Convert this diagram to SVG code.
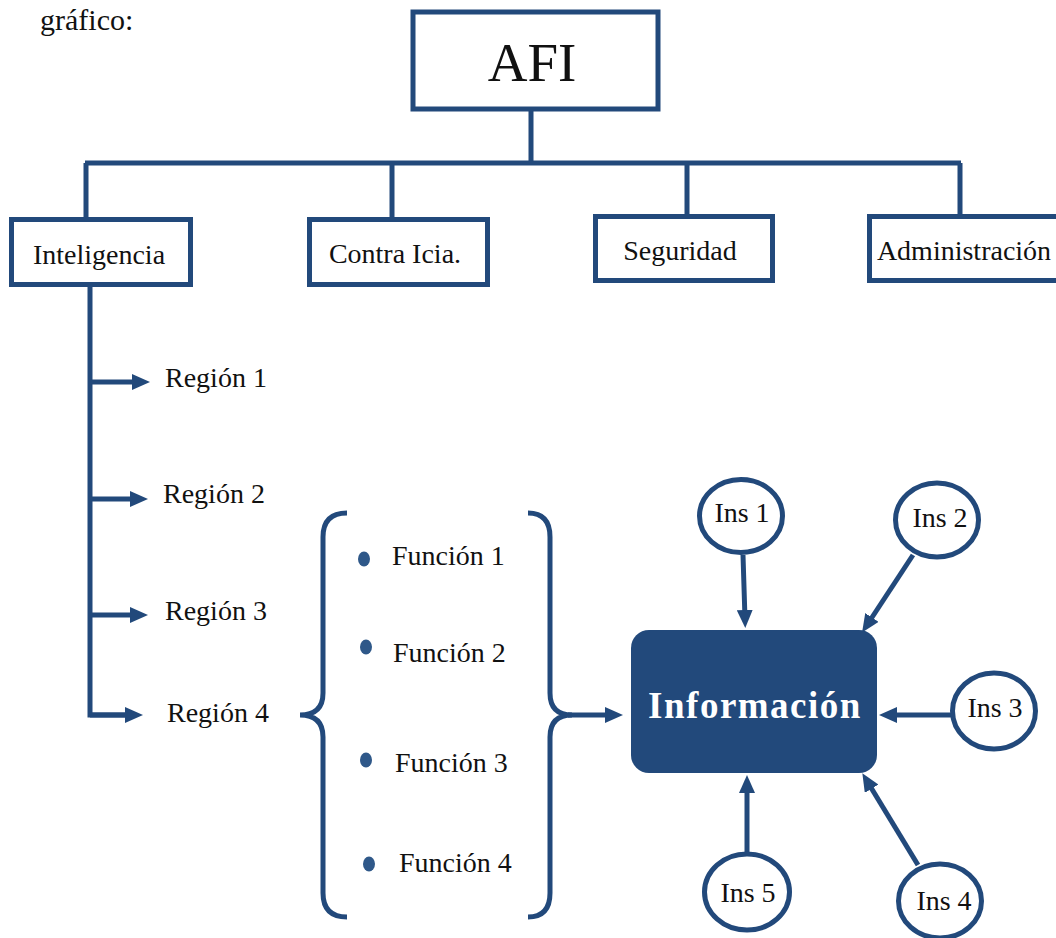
<svg xmlns="http://www.w3.org/2000/svg" width="1056" height="938" viewBox="0 0 1056 938">
<style>
.box{fill:#fff;stroke:#22497b;stroke-width:5}
.ln{fill:none;stroke:#22497b;stroke-width:5}
.ar{fill:none;stroke:#22497b;stroke-width:5;marker-end:url(#ah)}
.t{font-family:"Liberation Serif","Times New Roman",serif;font-size:28px;fill:#111}
.c{text-anchor:middle}
.dot{fill:#2f5889}
</style>
<defs>
<marker id="ah" viewBox="0 0 18 16" refX="9" refY="8" markerWidth="18" markerHeight="16" markerUnits="userSpaceOnUse" orient="auto">
<path d="M0,0 L18,8 L0,16 Z" fill="#22497b"/>
</marker>
</defs>
<rect width="1056" height="938" fill="#fff"/>
<text class="t" x="40" y="30" style="font-size:30px">gráfico:</text>

<g id="connectors">
<path class="ln" d="M531,109 V163 M85,163 H961 M86,163 V219 M392,163 V219 M687,163 V216 M960,163 V216"/>
<path class="ln" d="M90,285 V715 H134"/>
<line class="ar" x1="90" y1="715" x2="134" y2="715"/>
<line class="ar" x1="90" y1="382" x2="141" y2="382"/>
<line class="ar" x1="90" y1="499" x2="139" y2="499"/>
<line class="ar" x1="90" y1="615" x2="139" y2="615"/>
<path class="ln" d="M347,513 Q323,513 323,537 L323,693 Q323,715 300,715 Q323,715 323,737 L323,893 Q323,917 347,917"/>
<path class="ln" d="M528,513 Q550,513 550,537 L550,693 Q550,715 572,715 Q550,715 550,737 L550,893 Q550,917 528,917"/>
<line class="ar" x1="568" y1="715" x2="614" y2="715"/>
<line class="ar" x1="743" y1="555" x2="745" y2="619"/>
<line class="ar" x1="913" y1="555" x2="867" y2="625"/>
<line class="ar" x1="952" y1="715" x2="888" y2="715"/>
<line class="ar" x1="918" y1="865" x2="867" y2="781"/>
<line class="ar" x1="747" y1="853" x2="747" y2="784"/>
</g>

<g id="afi"><rect class="box" x="413" y="12" width="245" height="97"/><text class="t c" x="532" y="81" style="font-size:55px">AFI</text></g>
<g id="inteligencia"><rect class="box" x="11.5" y="219.5" width="179" height="65"/><text class="t c" x="99" y="264">Inteligencia</text></g>
<g id="contra"><rect class="box" x="309.5" y="219.5" width="178" height="65"/><text class="t c" x="395" y="263">Contra Icia.</text></g>
<g id="seguridad"><rect class="box" x="595.5" y="216.5" width="177" height="64"/><text class="t c" x="680" y="260">Seguridad</text></g>
<g id="administracion"><rect class="box" x="869.5" y="216.5" width="200" height="64"/><text class="t c" x="964" y="260">Administración</text></g>

<g id="region1"><text class="t" x="165" y="387">Región 1</text></g>
<g id="region2"><text class="t" x="163" y="503">Región 2</text></g>
<g id="region3"><text class="t" x="165" y="620">Región 3</text></g>
<g id="region4"><text class="t" x="167" y="722">Región 4</text></g>

<g id="funcion1"><ellipse class="dot" cx="364" cy="559" rx="6" ry="7.5"/><text class="t" x="392" y="565">Función 1</text></g>
<g id="funcion2"><ellipse class="dot" cx="366" cy="647" rx="6" ry="7.5"/><text class="t" x="393" y="662">Función 2</text></g>
<g id="funcion3"><ellipse class="dot" cx="366" cy="760" rx="6" ry="7.5"/><text class="t" x="395" y="772">Función 3</text></g>
<g id="funcion4"><ellipse class="dot" cx="369" cy="864" rx="6" ry="7.5"/><text class="t" x="399" y="872">Función 4</text></g>

<g id="informacion"><rect x="631" y="630" width="246" height="143" rx="18" fill="#22497b"/><text x="755" y="718" text-anchor="middle" style="font-family:'Liberation Serif','Times New Roman',serif;font-weight:bold;font-size:37px;letter-spacing:1.5px;fill:#fff">Información</text></g>

<g id="ins1"><ellipse class="box" cx="741" cy="516" rx="41.5" ry="36.5"/><text class="t c" x="742" y="522">Ins 1</text></g>
<g id="ins2"><ellipse class="box" cx="937" cy="520" rx="41.5" ry="37"/><text class="t c" x="940" y="527">Ins 2</text></g>
<g id="ins3"><ellipse class="box" cx="994" cy="711" rx="41.5" ry="38"/><text class="t c" x="995" y="717">Ins 3</text></g>
<g id="ins4"><ellipse class="box" cx="940" cy="901" rx="41.5" ry="37"/><text class="t c" x="944" y="910">Ins 4</text></g>
<g id="ins5"><ellipse class="box" cx="747" cy="892" rx="42.5" ry="38"/><text class="t c" x="748" y="902">Ins 5</text></g>
</svg>
